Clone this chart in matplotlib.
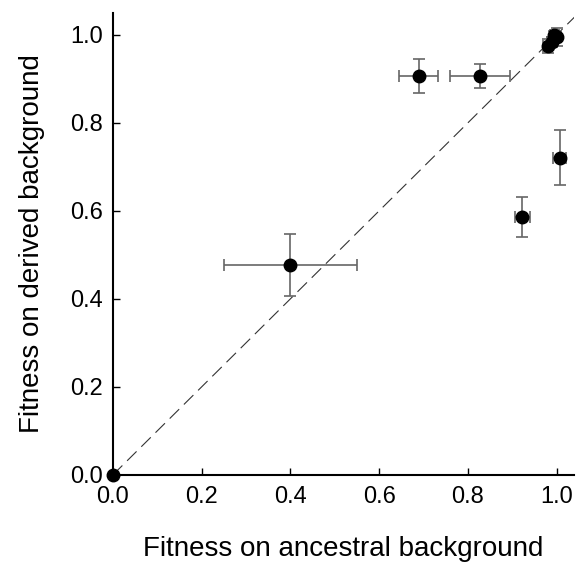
import matplotlib
matplotlib.use("Agg")
import matplotlib.pyplot as plt

plt.rcParams['font.family'] = ['Liberation Sans', 'DejaVu Sans']

anc = [0.0, 0.40, 0.689, 0.827, 0.923, 1.007, 0.98, 0.99, 1.0, 0.995]
der = [0.0, 0.477, 0.907, 0.907, 0.586, 0.721, 0.975, 0.985, 0.995, 1.0]
anc_err = [0.0, 0.15, 0.043, 0.068, 0.017, 0.014, 0.01, 0.012, 0.01, 0.01]
der_err = [0.0, 0.07, 0.038, 0.027, 0.046, 0.062, 0.015, 0.01, 0.02, 0.01]
ticks = [0.0, 0.2, 0.4, 0.6, 0.8, 1.0]
tick_labels = ['0.0', '0.2', '0.4', '0.6', '0.8', '1.0']

fig = plt.figure(figsize=(5.76, 5.62), dpi=100)
ax = fig.add_axes([0.196, 0.155, 0.801, 0.822])

ax.plot([0, 1.05], [0, 1.05], color='#333333', lw=0.8, dashes=(12, 6), zorder=1)
for x, y, xe, ye in zip(anc, der, anc_err, der_err):
    if xe > 0 or ye > 0:
        ax.errorbar(x, y, xerr=xe, yerr=ye, fmt='none', ecolor='#666666',
                    elinewidth=1.2, capsize=4, capthick=1.2, zorder=2)
ax.plot(anc, der, 'o', color='black', markersize=9, zorder=3, clip_on=False)

ax.set_xlim(0, 1.04)
ax.set_ylim(0, 1.05)
ax.set_xticks(ticks)
ax.set_xticklabels(tick_labels)
ax.set_yticks(ticks)
ax.set_yticklabels(tick_labels)
ax.spines['top'].set_visible(False)
ax.spines['right'].set_visible(False)
for s in ['left', 'bottom']:
    ax.spines[s].set_linewidth(1.5)
ax.tick_params(direction='in', length=5, width=1, labelsize=17)
ax.tick_params(axis='x', pad=8)
ax.tick_params(axis='y', pad=7)
ax.set_xlabel('Fitness on ancestral background', fontsize=20, labelpad=20)
ax.set_ylabel('Fitness on derived background', fontsize=20, labelpad=18)

fig.savefig('out.png', dpi=100)
